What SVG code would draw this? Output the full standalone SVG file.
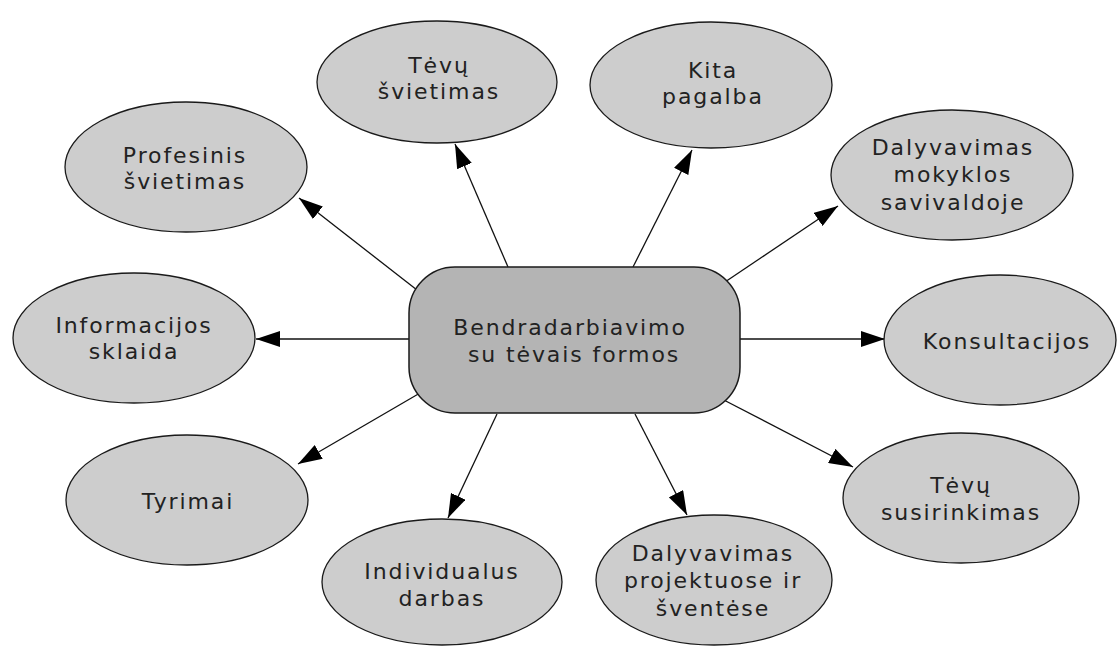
<svg xmlns="http://www.w3.org/2000/svg" width="1118" height="646" viewBox="0 0 1118 646">
<defs>
<style>
.n{fill:#cdcdcd;stroke:#1a1a1a;stroke-width:1.3}
.c{fill:#b4b4b4;stroke:#1a1a1a;stroke-width:1.5}
text{font-family:"DejaVu Sans","Liberation Sans",sans-serif;font-size:22px;letter-spacing:1.9px;fill:#222;text-anchor:middle}
.e{stroke:#111;stroke-width:1.3;fill:none;marker-end:url(#ah)}
</style>
<marker id="ah" markerUnits="userSpaceOnUse" markerWidth="26" markerHeight="16" refX="24" refY="8" orient="auto">
<path d="M0,0 L24,8 L0,16 Z" fill="#000"/>
</marker>
</defs>
<rect width="1118" height="646" fill="#fff"/>
<g id="connectors">
<line class="e" x1="508" y1="267" x2="455" y2="144"/>
<line class="e" x1="633" y1="267" x2="692" y2="150"/>
<line class="e" x1="417" y1="290" x2="299" y2="198"/>
<line class="e" x1="409" y1="339" x2="256" y2="339"/>
<line class="e" x1="725" y1="282" x2="838" y2="206"/>
<line class="e" x1="740" y1="339" x2="885" y2="339"/>
<line class="e" x1="420" y1="393" x2="298" y2="464"/>
<line class="e" x1="497" y1="414" x2="448" y2="518"/>
<line class="e" x1="635" y1="414" x2="687" y2="515"/>
<line class="e" x1="718" y1="397" x2="853" y2="467"/>
</g>
<g id="center">
<rect class="c" x="409" y="267" width="331" height="146" rx="46" ry="46"/>
<text x="570" y="335">Bendradarbiavimo</text>
<text x="574" y="362">su tėvais formos</text>
</g>
<g id="tevu-svietimas">
<ellipse class="n" cx="437" cy="82" rx="120" ry="61"/>
<text x="439" y="73">Tėvų</text>
<text x="439" y="99">švietimas</text>
</g>
<g id="kita-pagalba">
<ellipse class="n" cx="711" cy="85" rx="121" ry="63"/>
<text x="713" y="78">Kita</text>
<text x="713" y="104">pagalba</text>
</g>
<g id="profesinis">
<ellipse class="n" cx="186" cy="167" rx="121" ry="65"/>
<text x="185" y="163">Profesinis</text>
<text x="185" y="189">švietimas</text>
</g>
<g id="informacijos">
<ellipse class="n" cx="134" cy="338" rx="121" ry="65"/>
<text x="134" y="333">Informacijos</text>
<text x="134" y="359">sklaida</text>
</g>
<g id="savivalda">
<ellipse class="n" cx="952" cy="175" rx="121" ry="65"/>
<text x="953" y="155">Dalyvavimas</text>
<text x="953" y="182">mokyklos</text>
<text x="953" y="210">savivaldoje</text>
</g>
<g id="konsultacijos">
<ellipse class="n" cx="1000" cy="340" rx="116" ry="65"/>
<text x="1007" y="349">Konsultacijos</text>
</g>
<g id="tyrimai">
<ellipse class="n" cx="187" cy="500" rx="121" ry="65"/>
<text x="188" y="509">Tyrimai</text>
</g>
<g id="individualus">
<ellipse class="n" cx="442" cy="582" rx="120" ry="63"/>
<text x="442" y="579">Individualus</text>
<text x="442" y="606">darbas</text>
</g>
<g id="projektai">
<ellipse class="n" cx="714" cy="580" rx="118" ry="65"/>
<text x="713" y="561">Dalyvavimas</text>
<text x="713" y="588">projektuose ir</text>
<text x="713" y="616">šventėse</text>
</g>
<g id="susirinkimas">
<ellipse class="n" cx="961" cy="498" rx="118" ry="65"/>
<text x="961" y="493">Tėvų</text>
<text x="961" y="520">susirinkimas</text>
</g>
</svg>
